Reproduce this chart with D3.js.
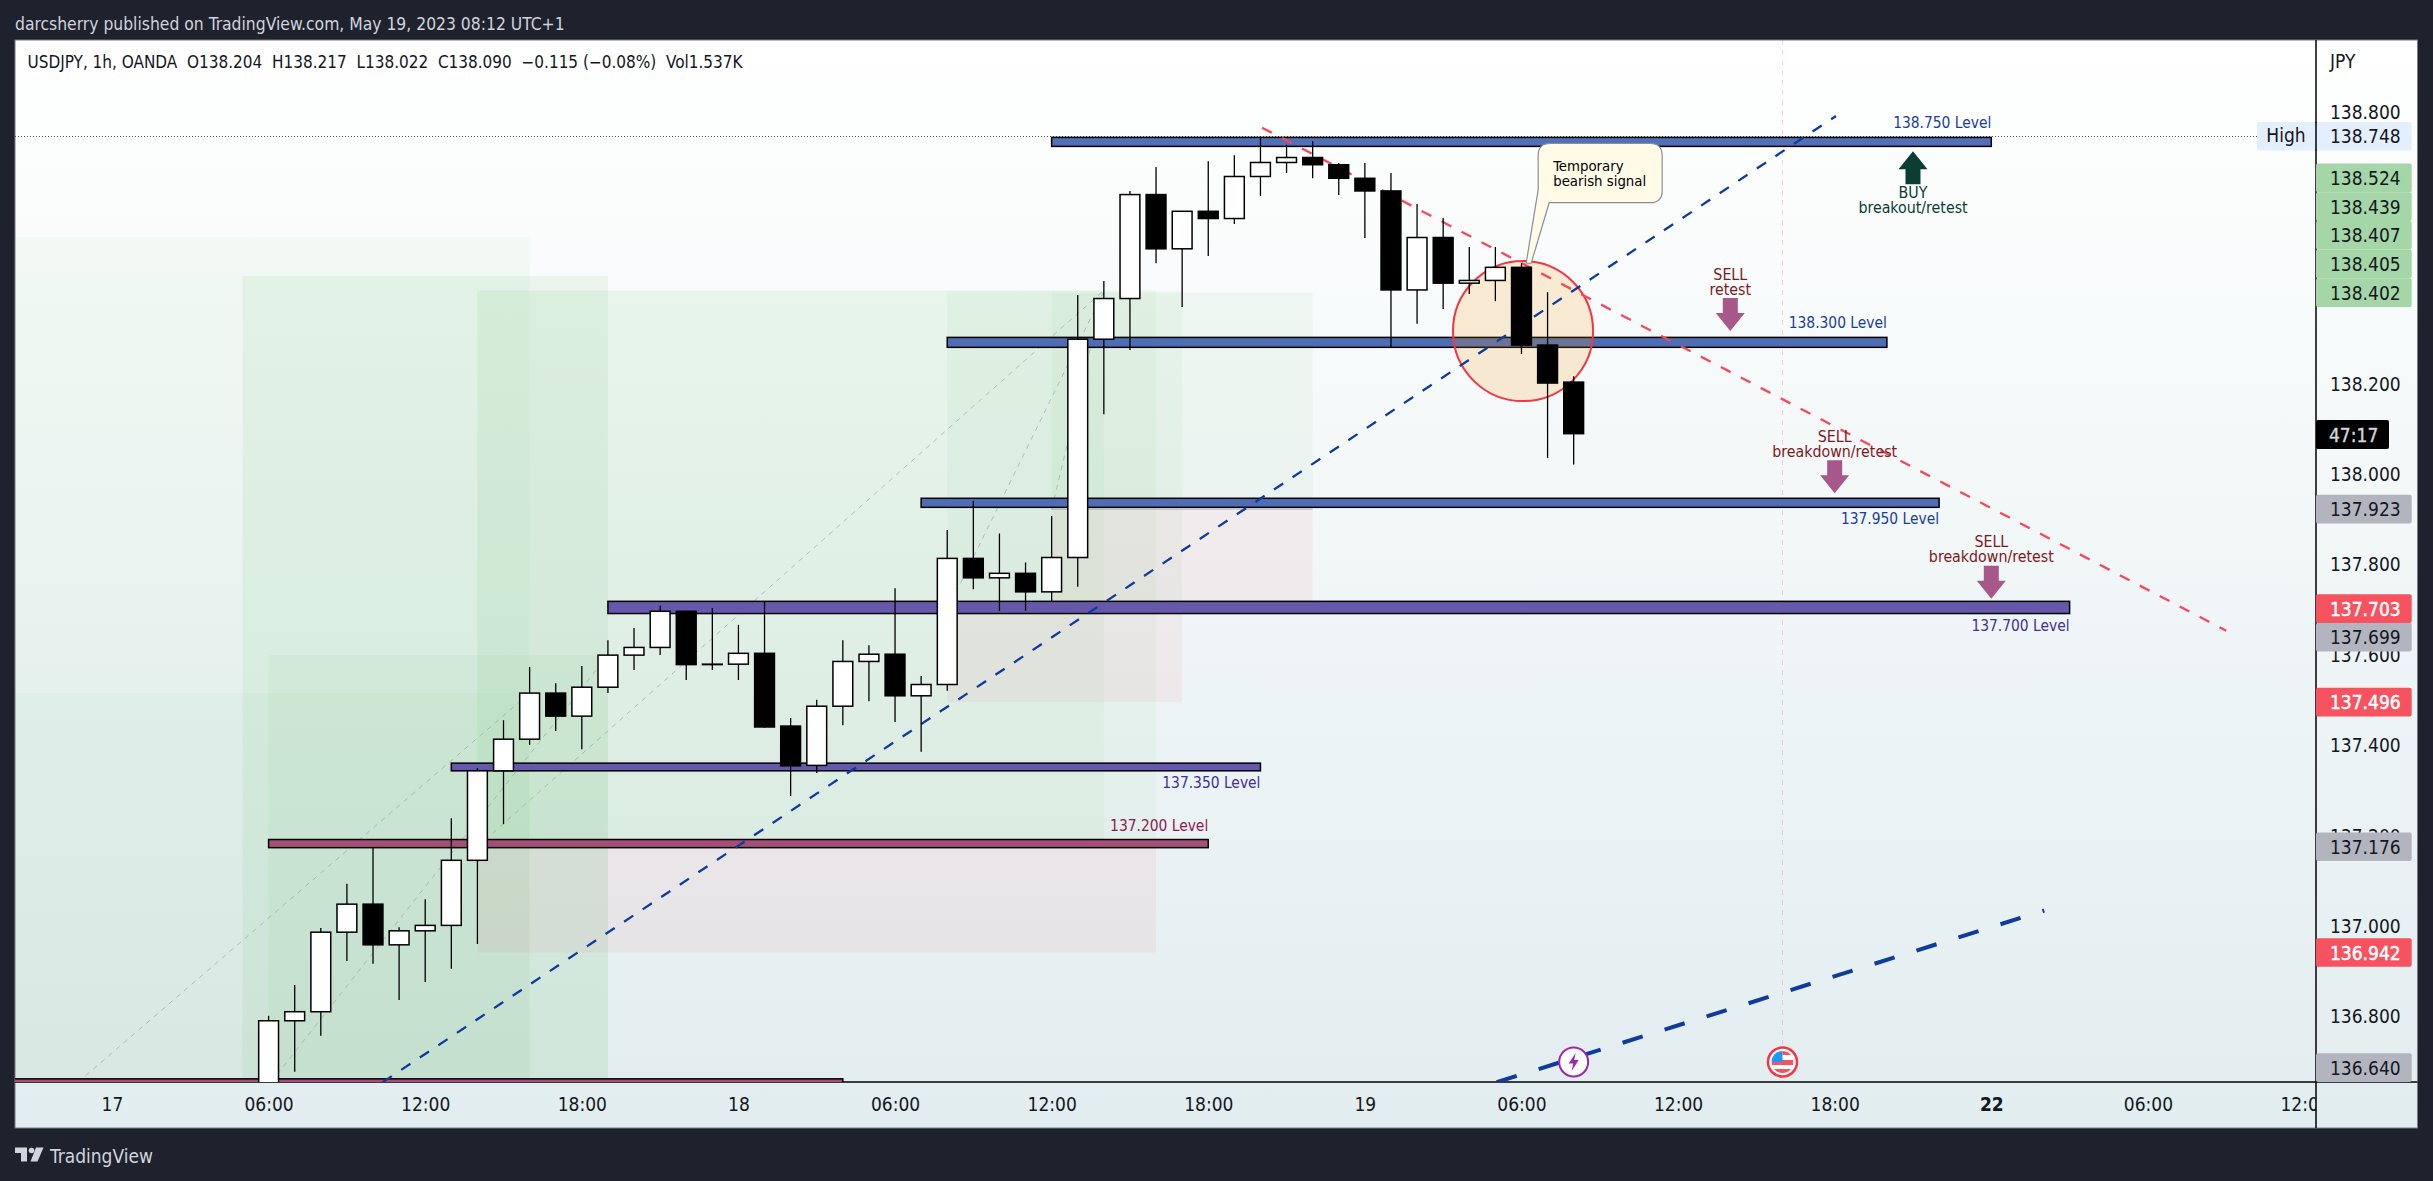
<!DOCTYPE html>
<html>
<head>
<meta charset="utf-8">
<title>USDJPY 1h</title>
<script src="https://cdn.jsdelivr.net/npm/d3@7"></script>
<style>
  html, body { margin: 0; padding: 0; background: #1e222d; }
  svg { display: block; }
  text { font-family: "DejaVu Sans Condensed", "DejaVu Sans", sans-serif; font-stretch: condensed; white-space: pre; }
</style>
</head>
<body>
<div id="chart"></div>
<script>
  // candles, one per hour, bar 0 is 17 May 00:00
  var firstBar = 6;
  var opens = [136.60, 136.791, 136.811, 136.987, 137.049, 136.959, 136.990, 137.002, 137.146, 137.344,
    137.414, 137.516, 137.465, 137.529, 137.600, 137.617, 137.697, 137.579, 137.580, 137.604,
    137.443, 137.356, 137.487, 137.586, 137.602, 137.510, 137.535, 137.814, 137.771, 137.781,
    137.740, 137.816, 138.299, 138.389, 138.619, 138.499, 138.582, 138.566, 138.659, 138.690,
    138.701, 138.685, 138.655, 138.627, 138.408, 138.524, 138.423, 138.429, 138.458, 138.286,
    138.204];
  var highs = [136.802, 136.870, 136.996, 137.094, 137.175, 136.998, 137.060, 137.239, 137.350, 137.456,
    137.574, 137.538, 137.576, 137.633, 137.660, 137.709, 137.698, 137.704, 137.667, 137.718,
    137.461, 137.501, 137.633, 137.622, 137.748, 137.554, 137.877, 137.941, 137.869, 137.805,
    137.908, 138.397, 138.428, 138.627, 138.680, 138.582, 138.693, 138.706, 138.747, 138.729,
    138.737, 138.689, 138.689, 138.667, 138.598, 138.567, 138.503, 138.503, 138.467, 138.403,
    138.217];
  var lows = [136.56, 136.678, 136.758, 136.923, 136.917, 136.837, 136.877, 136.906, 136.961, 137.226,
    137.401, 137.432, 137.392, 137.516, 137.567, 137.600, 137.545, 137.567, 137.545, 137.439,
    137.288, 137.339, 137.445, 137.498, 137.452, 137.386, 137.521, 137.746, 137.698, 137.698,
    137.718, 137.751, 138.133, 138.275, 138.467, 138.370, 138.483, 138.554, 138.616, 138.667,
    138.655, 138.618, 138.523, 138.282, 138.333, 138.366, 138.399, 138.383, 138.266, 138.036,
    138.022];
  var closes = [136.791, 136.811, 136.987, 137.049, 136.959, 136.990, 137.002, 137.146, 137.344, 137.414,
    137.516, 137.465, 137.529, 137.600, 137.617, 137.697, 137.579, 137.580, 137.604, 137.441,
    137.355, 137.487, 137.586, 137.602, 137.510, 137.535, 137.814, 137.771, 137.781, 137.740,
    137.816, 138.299, 138.389, 138.619, 138.499, 138.582, 138.566, 138.659, 138.690, 138.701,
    138.685, 138.655, 138.627, 138.408, 138.524, 138.423, 138.429, 138.458, 138.286, 138.202,
    138.090];

  // axis ticks
  var timeTicks = [0, 6, 12, 18, 24, 30, 36, 42, 48, 54, 60, 66, 72, 78, 84];
  var timeLabels = ["17", "06:00", "12:00", "18:00", "18", "06:00", "12:00", "18:00", "19", "06:00", "12:00", "18:00", "22", "06:00", "12:00"];
  var priceTicks = [136.8, 137.0, 137.2, 137.4, 137.6, 137.8, 138.0, 138.2, 138.4, 138.6, 138.8];

  // horizontal level bars
  var levelNames = ["138.750 Level", "138.300 Level", "137.950 Level", "137.700 Level", "137.350 Level", "137.200 Level", ""];
  var levelStart = [36, 32, 31, 19, 13, 6, -4];
  var levelEnd = [72, 68, 70, 75, 44, 42, 28];
  var levelTop = [138.7455, 138.303, 137.947, 137.719, 137.361, 137.192, 136.6625];
  var levelBottom = [138.7256, 138.281, 137.927, 137.692, 137.344, 137.174, 136.63];

  // long position boxes
  var toolStart = [-4, -4, 5, 6, 14, 14, 32, 36];
  var toolEnd = [16, 16, 19, 19, 38, 40, 41, 46];
  var toolTarget = [138.524, 137.516, 138.439, 137.600, 138.407, 138.407, 138.405, 138.402];
  var toolEntry = [136.640, 136.640, 136.640, 136.640, 137.176, 137.176, 137.699, 137.923];
  var toolStop = [null, null, null, null, null, 136.942, 137.496, 137.703];

  // trend lines, from / to
  var blueBars = [10.37, 66.05];
  var bluePrices = [136.655, 138.793];
  var blue2Bars = [53.05, 74.03];
  var blue2Prices = [136.655, 137.035];
  var redBars = [44.06, 81.0];
  var redPrices = [138.767, 137.654];
  var diagonalFromBars = [-1.3, 6.09, 14, 32, 36];
  var diagonalFromPrices = [136.655, 136.655, 137.176, 137.699, 137.923];
  var diagonalToBars = [16, 19, 38, 38, 38];
  var diagonalToPrices = [137.516, 137.600, 138.407, 138.405, 138.402];

  // buy / sell notes, arrow tip at bar + price
  var signalBars = [69, 62, 66, 72];
  var signalPrices = [138.715, 138.317, 137.958, 137.725];
  var signalFirstLines = ["BUY", "SELL", "SELL", "SELL"];
  var signalSecondLines = ["breakout/retest", "retest", "breakdown/retest", "breakdown/retest"];

  // labels on the price scale
  var targetTags = [138.524, 138.439, 138.407, 138.405, 138.402];
  var entryTags = [137.923, 137.699, 137.176, 136.640];
  var stopTags = [137.703, 137.496, 136.942];
  var highPrice = 138.748;

  var eventBars = [56, 64];

  var width = 2433, height = 1181;
  var plot = { left: 15, top: 40, right: 2316, bottom: 1082, frameRight: 2417.5, frameBottom: 1128 };

  var x = d3.scaleLinear().domain([-3.716, 84.44]).range([plot.left, plot.right]);
  var y = d3.scaleLinear().domain([136.6555, 138.961]).range([plot.bottom, plot.top]);
  var barStep = x(1) - x(0);
  var bodyWidth = barStep * 0.76;

  var svg = d3.select("#chart").append("svg").attr("width", width).attr("height", height);
  var defs = svg.append("defs");

  var grad = defs.append("linearGradient").attr("id", "panelFill").attr("x1", 0).attr("x2", 0).attr("y1", 0).attr("y2", 1);
  grad.append("stop").attr("offset", 0).attr("stop-color", "#ffffff");
  grad.append("stop").attr("offset", 1).attr("stop-color", "#e2edef");

  defs.append("clipPath").attr("id", "plotClip").append("rect")
    .attr("x", plot.left).attr("y", plot.top)
    .attr("width", plot.right - plot.left).attr("height", plot.bottom - plot.top);
  defs.append("clipPath").attr("id", "timeClip").append("rect")
    .attr("x", plot.left).attr("y", plot.bottom)
    .attr("width", plot.right - plot.left).attr("height", plot.frameBottom - plot.bottom);

  // frame and panel
  svg.append("rect").attr("width", width).attr("height", height).attr("fill", "#1e222d");
  svg.append("rect")
    .attr("x", plot.left).attr("y", plot.top)
    .attr("width", plot.frameRight - plot.left).attr("height", plot.frameBottom - plot.top)
    .attr("fill", "url(#panelFill)").attr("stroke", "#787b86").attr("stroke-width", 1);

  svg.append("text").attr("x", plot.left).attr("y", 23.5).attr("dominant-baseline", "central")
    .attr("font-size", 17.35).attr("fill", "#d1d4dc")
    .text("darcsherry published on TradingView.com, May 19, 2023 08:12 UTC+1");

  // axis lines run under the drawings
  svg.append("line").attr("x1", plot.left).attr("x2", plot.frameRight)
    .attr("y1", plot.bottom).attr("y2", plot.bottom).attr("stroke", "#000").attr("stroke-width", 1.5);
  svg.append("line").attr("x1", plot.right).attr("x2", plot.right)
    .attr("y1", plot.top).attr("y2", plot.frameBottom).attr("stroke", "#000").attr("stroke-width", 1.5);

  var chart = svg.append("g").attr("clip-path", "url(#plotClip)");

  // position boxes
  var toolOpacity = [0.045, 0.03, 0.08, 0.05, 0.045, 0.045, 0.05, 0.05];
  var tools = d3.range(toolStart.length);
  chart.append("g").selectAll("rect.target").data(tools).enter().append("rect")
    .attr("class", "target")
    .attr("x", function(i) { return x(toolStart[i]); })
    .attr("width", function(i) { return x(toolEnd[i]) - x(toolStart[i]); })
    .attr("y", function(i) { return y(toolTarget[i]); })
    .attr("height", function(i) { return y(toolEntry[i]) - y(toolTarget[i]); })
    .attr("fill", "#4caf50").attr("fill-opacity", function(i) { return toolOpacity[i]; });

  var stopped = tools.filter(function(i) { return toolStop[i] !== null; });
  chart.append("g").selectAll("rect.stop").data(stopped).enter().append("rect")
    .attr("class", "stop")
    .attr("x", function(i) { return x(toolStart[i]); })
    .attr("width", function(i) { return x(toolEnd[i]) - x(toolStart[i]); })
    .attr("y", function(i) { return y(toolEntry[i]); })
    .attr("height", function(i) { return y(toolStop[i]) - y(toolEntry[i]); })
    .attr("fill", "#f23645").attr("fill-opacity", 0.06);

  chart.append("g").selectAll("line").data(stopped).enter().append("line")
    .attr("x1", function(i) { return x(toolStart[i]); })
    .attr("x2", function(i) { return x(toolEnd[i]); })
    .attr("y1", function(i) { return y(toolEntry[i]); })
    .attr("y2", function(i) { return y(toolEntry[i]); })
    .attr("stroke", "#787b86").attr("stroke-opacity", 0.5).attr("stroke-width", 1);

  chart.append("g").selectAll("line").data(d3.range(diagonalFromBars.length)).enter().append("line")
    .attr("x1", function(i) { return x(diagonalFromBars[i]); })
    .attr("y1", function(i) { return y(diagonalFromPrices[i]); })
    .attr("x2", function(i) { return x(diagonalToBars[i]); })
    .attr("y2", function(i) { return y(diagonalToPrices[i]); })
    .attr("stroke", "#9598a1").attr("stroke-opacity", 0.6).attr("stroke-width", 1)
    .attr("stroke-dasharray", "5,5");

  // high line and news marker line
  chart.append("line")
    .attr("x1", plot.left).attr("x2", plot.right)
    .attr("y1", Math.round(y(highPrice)) + 0.5).attr("y2", Math.round(y(highPrice)) + 0.5)
    .attr("stroke", "#50535e").attr("stroke-width", 1).attr("stroke-dasharray", "1,2");
  chart.append("line")
    .attr("x1", x(eventBars[1])).attr("x2", x(eventBars[1]))
    .attr("y1", plot.top).attr("y2", plot.bottom)
    .attr("stroke", "#f23645").attr("stroke-opacity", 0.2).attr("stroke-width", 1).attr("stroke-dasharray", "5,5");

  // level bars
  var levelFill = ["#5370b6", "#4f6db3", "#4f6db3", "#6658aa", "#6658aa", "#a34f78", "#a34f78"];
  var levelText = ["#1c3d9c", "#1c3d9c", "#1c3d9c", "#3f2f9a", "#3f2f9a", "#8a1a55", "#8a1a55"];
  var levels = d3.range(levelNames.length);
  chart.append("g").selectAll("rect").data(levels).enter().append("rect")
    .attr("x", function(i) { return x(levelStart[i]); })
    .attr("width", function(i) { return x(levelEnd[i]) - x(levelStart[i]); })
    .attr("y", function(i) { return y(levelTop[i]); })
    .attr("height", function(i) { return y(levelBottom[i]) - y(levelTop[i]); })
    .attr("fill", function(i) { return levelFill[i]; })
    .attr("stroke", "#000").attr("stroke-width", 1.5);

  // text sits above the bar for some levels, below for the others
  var levelTextAbove = [true, true, false, false, false, true, false];
  chart.append("g").selectAll("text").data(levels).enter().append("text")
    .attr("x", function(i) { return x(levelEnd[i]); })
    .attr("y", function(i) {
      return levelTextAbove[i] ? y(levelTop[i]) - 14 : y(levelBottom[i]) + 12;
    })
    .attr("text-anchor", "end").attr("dominant-baseline", "central")
    .attr("font-size", 15.4).attr("fill", function(i) { return levelText[i]; })
    .text(function(i) { return levelNames[i]; });

  // red circle
  var circleBar = 54.06, circlePrice = 138.317, circleRimPrice = 138.472;
  chart.append("ellipse")
    .attr("cx", x(circleBar)).attr("cy", y(circlePrice))
    .attr("rx", y(circlePrice) - y(circleRimPrice)).attr("ry", y(circlePrice) - y(circleRimPrice))
    .attr("fill", "#ff9800").attr("fill-opacity", 0.16)
    .attr("stroke", "#f23645").attr("stroke-width", 2);

  // dashed trend lines
  function trend(bars, prices, colour, w, dash) {
    chart.append("path")
      .attr("d", d3.line()
        .x(function(d) { return x(d); })
        .y(function(d, i) { return y(prices[i]); })(bars))
      .attr("fill", "none").attr("stroke", colour).attr("stroke-width", w)
      .attr("stroke-dasharray", dash);
  }
  trend(blueBars, bluePrices, "#0f3a9e", 2.3, "11,11.3");
  trend(blue2Bars, blue2Prices, "#0f3a9e", 4, "21,23");
  trend(redBars, redPrices, "#f7475a", 2.3, "11,11.5");

  // candles
  var candles = d3.range(opens.length);
  var candle = chart.append("g").selectAll("g").data(candles).enter().append("g")
    .attr("class", "candle");
  candle.append("line")
    .attr("x1", function(i) { return x(firstBar + i); })
    .attr("x2", function(i) { return x(firstBar + i); })
    .attr("y1", function(i) { return y(highs[i]); })
    .attr("y2", function(i) { return y(lows[i]); })
    .attr("stroke", "#000").attr("stroke-width", 1.3);
  candle.append("rect")
    .attr("x", function(i) { return x(firstBar + i) - bodyWidth / 2; })
    .attr("width", bodyWidth)
    .attr("y", function(i) { return y(Math.max(opens[i], closes[i])); })
    .attr("height", function(i) { return Math.abs(y(opens[i]) - y(closes[i])); })
    .attr("fill", function(i) { return closes[i] < opens[i] ? "#000" : "#fff"; })
    .attr("stroke", "#000").attr("stroke-width", 1.5);

  // callout
  var callLeft = x(54.64), callRight = x(59.39), callTop = y(138.732), callBottom = y(138.601);
  var tipX = x(54.18), tipY = y(138.467), r = 12;
  var call = d3.path();
  call.moveTo(callLeft + r, callTop);
  call.lineTo(callRight - r, callTop);
  call.quadraticCurveTo(callRight, callTop, callRight, callTop + r);
  call.lineTo(callRight, callBottom - r);
  call.quadraticCurveTo(callRight, callBottom, callRight - r, callBottom);
  call.lineTo(callLeft + 11, callBottom);
  call.lineTo(tipX + 5, tipY);
  call.lineTo(tipX, tipY);
  call.lineTo(callLeft, callBottom - 13);
  call.lineTo(callLeft, callTop + r);
  call.quadraticCurveTo(callLeft, callTop, callLeft + r, callTop);
  call.closePath();
  chart.append("path").attr("d", call.toString())
    .attr("fill", "#fffbe6").attr("stroke", "#8a8e99").attr("stroke-width", 1.2);
  chart.append("text").attr("x", callLeft + 15).attr("y", callTop + 22).attr("dominant-baseline", "central")
    .attr("font-size", 14.8).attr("fill", "#000").text("Temporary");
  chart.append("text").attr("x", callLeft + 15).attr("y", callTop + 37).attr("dominant-baseline", "central")
    .attr("font-size", 14.8).attr("fill", "#000").text("bearish signal");

  // buy and sell arrows
  var signals = d3.range(signalBars.length);
  var signal = chart.append("g").selectAll("g").data(signals).enter().append("g")
    .attr("transform", function(i) { return "translate(" + x(signalBars[i]) + "," + y(signalPrices[i]) + ")"; });
  signal.append("path")
    .attr("d", function(i) {
      var dir = i === 0 ? 1 : -1;
      return "M0,0L14.5," + (dir * 18) + "L7.5," + (dir * 18) + "L7.5," + (dir * 33) +
        "L-7.5," + (dir * 33) + "L-7.5," + (dir * 18) + "L-14.5," + (dir * 18) + "Z";
    })
    .attr("fill", function(i) { return i === 0 ? "#0a3d33" : "#a8578a"; });
  signal.append("text")
    .attr("text-anchor", "middle").attr("dominant-baseline", "central")
    .attr("y", function(i) { return i === 0 ? 41 : -57; })
    .attr("font-size", 15.8).attr("fill", function(i) { return i === 0 ? "#0a3d33" : "#801922"; })
    .text(function(i) { return signalFirstLines[i]; });
  signal.append("text")
    .attr("text-anchor", "middle").attr("dominant-baseline", "central")
    .attr("y", function(i) { return i === 0 ? 56 : -42; })
    .attr("font-size", 15.8).attr("fill", function(i) { return i === 0 ? "#0a3d33" : "#801922"; })
    .text(function(i) { return signalSecondLines[i]; });

  // news icons on the bottom edge
  var iconY = plot.bottom - 20;
  var bolt = chart.append("g").attr("transform", "translate(" + x(eventBars[0]) + "," + iconY + ")");
  bolt.append("circle").attr("r", 14.5).attr("fill", "#fff").attr("stroke", "#9c27b0").attr("stroke-width", 2);
  bolt.append("path").attr("d", "M2,-9L-5,1.5L-0.5,1.5L-2,9L5,-2L0.5,-2Z").attr("fill", "#9c27b0");

  defs.append("clipPath").attr("id", "flagClip").append("circle").attr("r", 11);
  var flag = chart.append("g").attr("transform", "translate(" + x(eventBars[1]) + "," + iconY + ")");
  flag.append("circle").attr("r", 14.5).attr("fill", "#fff").attr("stroke", "#f23645").attr("stroke-width", 2.5);
  var flagInner = flag.append("g").attr("clip-path", "url(#flagClip)");
  flagInner.append("rect").attr("x", -11).attr("y", -2).attr("width", 22).attr("height", 5).attr("fill", "#f7525f");
  flagInner.append("rect").attr("x", -11).attr("y", 7).attr("width", 22).attr("height", 5).attr("fill", "#f7525f");
  flagInner.append("rect").attr("x", 0).attr("y", -11).attr("width", 11).attr("height", 4).attr("fill", "#f7525f");
  flagInner.append("rect").attr("x", -11).attr("y", -11).attr("width", 11).attr("height", 11).attr("fill", "#2196f3");

  // title row
  svg.append("text").attr("x", 27.5).attr("y", 62).attr("dominant-baseline", "central")
    .attr("font-size", 17).attr("fill", "#131722")
    .text("USDJPY, 1h, OANDA  O138.204  H138.217  L138.022  C138.090  \u22120.115 (\u22120.08%)  Vol1.537K");

  // time axis
  var timeAxis = d3.axisBottom(x).tickValues(timeTicks).tickSize(0).tickPadding(0)
    .tickFormat(function(d, i) { return timeLabels[i]; });
  var timeG = svg.append("g").attr("clip-path", "url(#timeClip)").append("g")
    .attr("transform", "translate(0," + (plot.bottom + 23) + ")")
    .call(timeAxis);
  timeG.select(".domain").remove();
  timeG.selectAll("text")
    .attr("font-size", 19).attr("fill", "#131722").attr("dy", "0.32em")
    .attr("font-weight", function(d) { return d === 72 ? "bold" : "normal"; });

  // price axis
  var labelX = 2330;
  var priceAxis = d3.axisRight(y).tickValues(priceTicks).tickSize(0).tickPadding(0)
    .tickFormat(d3.format(".3f"));
  var priceG = svg.append("g").attr("transform", "translate(" + labelX + ",0)").call(priceAxis);
  priceG.select(".domain").remove();
  priceG.selectAll("text").attr("font-size", 19).attr("fill", "#131722").attr("x", 0).attr("dy", "0.32em");

  svg.append("text").attr("x", labelX).attr("y", 61).attr("dominant-baseline", "central")
    .attr("font-size", 19).attr("fill", "#131722").text("JPY");

  // price tags, pushed apart when they would overlap
  var tagHeight = 28.7, tagRight = 2411.7;
  function place(prices, pushUp) {
    var sorted = prices.slice().sort(function(a, b) { return pushUp ? a - b : b - a; });
    var last = null;
    return sorted.map(function(p) {
      var pos = Math.min(y(p), plot.bottom - tagHeight / 2);
      if (last !== null) pos = pushUp ? Math.min(pos, last - tagHeight) : Math.max(pos, last + tagHeight);
      last = pos;
      return { price: p, pos: pos };
    });
  }
  var stopAndEntry = place(stopTags.concat(entryTags), false);
  function tagGroup(items, fill, textFill, thick) {
    var g = svg.append("g").selectAll("g").data(items).enter().append("g")
      .attr("transform", function(d) { return "translate(0," + d.pos + ")"; });
    g.append("rect")
      .attr("x", plot.right).attr("y", -tagHeight / 2)
      .attr("width", tagRight - plot.right).attr("height", tagHeight)
      .attr("rx", 2)
      .attr("fill", fill);
    g.append("text").attr("x", labelX).attr("dominant-baseline", "central")
      .attr("font-size", 19).attr("fill", textFill)
      .attr("stroke", thick ? textFill : "none").attr("stroke-width", thick ? 0.5 : 0)
      .text(function(d) { return d3.format(".3f")(d.price); });
  }
  tagGroup(place(targetTags, true), "#a5d6a7", "#131722", false);
  tagGroup(stopAndEntry.filter(function(d) { return entryTags.indexOf(d.price) >= 0; }), "#b2b5be", "#131722", false);
  tagGroup(stopAndEntry.filter(function(d) { return stopTags.indexOf(d.price) >= 0; }), "#f7525f", "#ffffff", true);
  tagGroup([{ price: highPrice, pos: y(highPrice) }], "#e3effd", "#131722", false);

  svg.append("rect").attr("x", 2257).attr("y", y(highPrice) - tagHeight / 2).attr("width", plot.right - 2257).attr("height", tagHeight)
    .attr("rx", 2).attr("fill", "#e3effd");
  svg.append("text").attr("x", 2286).attr("y", y(highPrice) - 1).attr("text-anchor", "middle").attr("dominant-baseline", "central")
    .attr("font-size", 19).attr("fill", "#131722").text("High");
  svg.append("line").attr("x1", plot.right).attr("x2", plot.right)
    .attr("y1", y(highPrice) - tagHeight / 2).attr("y2", y(highPrice) + tagHeight / 2)
    .attr("stroke", "#000").attr("stroke-width", 1.5);

  // countdown under the last price
  svg.append("rect").attr("x", plot.right).attr("y", 420).attr("width", 73).attr("height", 29).attr("rx", 2).attr("fill", "#000");
  svg.append("text").attr("x", 2329).attr("y", 434.5).attr("dominant-baseline", "central")
    .attr("font-size", 19).attr("stroke", "#d1d4dc").attr("stroke-width", 0.4).attr("fill", "#d1d4dc").text("47:17");

  // footer logo
  var logo = svg.append("g").attr("fill", "#d1d4dc").attr("transform", "translate(15,1147.5)");
  logo.append("path").attr("d", "M0,0H12V14H6V5.5H0Z");
  logo.append("circle").attr("cx", 16.5).attr("cy", 3).attr("r", 2.8);
  logo.append("path").attr("d", "M21,0H28.5L22.5,14H15.5Z");
  svg.append("text").attr("x", 50).attr("y", 1155.5).attr("dominant-baseline", "central")
    .attr("font-size", 19).attr("fill", "#d1d4dc").text("TradingView");
</script>
</body>
</html>
